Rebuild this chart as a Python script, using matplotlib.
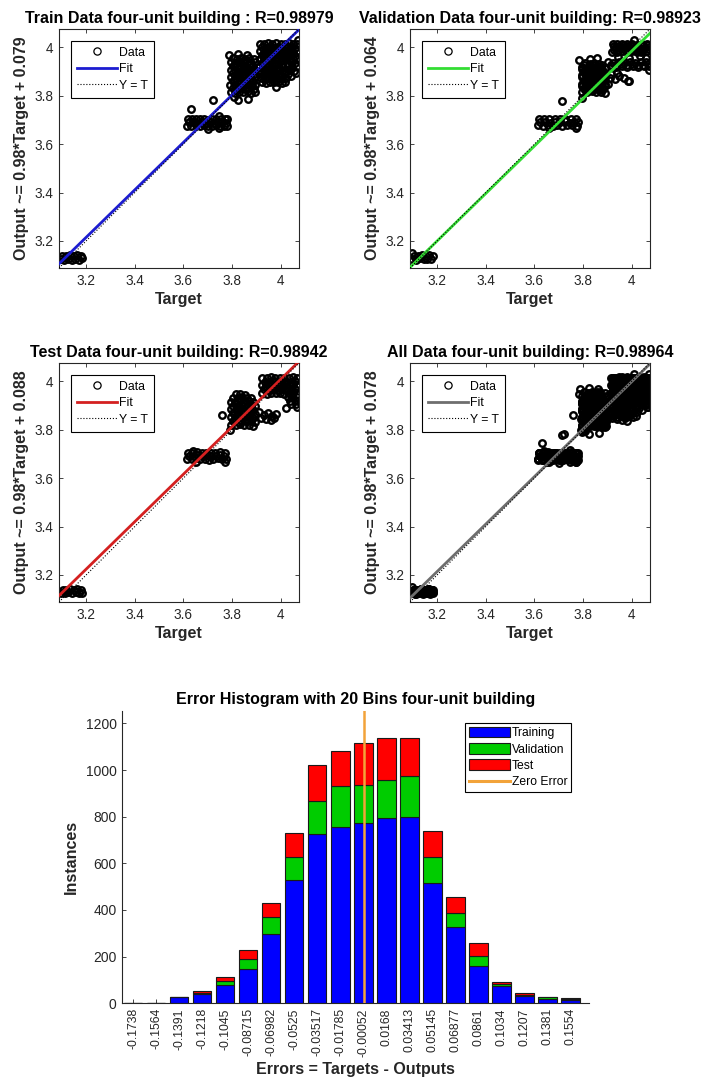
import matplotlib
matplotlib.use('Agg')
import matplotlib.pyplot as plt
from matplotlib.lines import Line2D
from matplotlib.patches import Patch
import numpy as np

plt.rcParams['font.family'] = ['Liberation Sans', 'DejaVu Sans']

# ---------------- regression data (Target, Output) ----------------
train_x = [
    # low cluster
    3.096, 3.110, 3.126, 3.141, 3.155, 3.170, 3.181, 3.100, 3.117, 3.133, 3.148, 3.163, 3.177,
    # middle cluster
    3.616, 3.633, 3.650, 3.667, 3.684, 3.700, 3.717, 3.734, 3.751, 3.768, 3.781,
    3.624, 3.641, 3.658, 3.675, 3.692, 3.709, 3.726, 3.743, 3.760, 3.777,
    3.617, 3.634, 3.651, 3.668, 3.685, 3.702, 3.719, 3.736, 3.753, 3.770, 3.780,
    3.721, 3.630, 3.745, 3.700, 3.745,
    # cluster near 3.85
    3.795, 3.812, 3.830, 3.846, 3.864, 3.880, 3.896,
    3.803, 3.820, 3.837, 3.855, 3.871, 3.889,
    3.794, 3.813, 3.829, 3.847, 3.863, 3.881, 3.895,
    3.804, 3.821, 3.838, 3.854, 3.872, 3.888,
    3.796, 3.811, 3.830, 3.845, 3.864, 3.879, 3.896,
    3.803, 3.820, 3.838, 3.855, 3.871, 3.890,
    3.795, 3.813, 3.828, 3.847, 3.862, 3.881, 3.894,
    3.804, 3.819, 3.837, 3.854, 3.872, 3.888,
    3.796, 3.812, 3.830, 3.846, 3.863, 3.880, 3.895,
    3.803, 3.821, 3.838, 3.855, 3.871, 3.889,
    3.789, 3.826, 3.860, 3.825, 3.866, 3.808,
    # cluster near 4.0
    3.915, 3.932, 3.950, 3.966, 3.983, 4.001, 4.017, 4.034, 4.050, 4.068,
    3.924, 3.940, 3.958, 3.975, 3.991, 4.008, 4.026, 4.042, 4.059,
    3.914, 3.931, 3.949, 3.967, 3.984, 4.000, 4.018, 4.033, 4.051, 4.067,
    3.923, 3.941, 3.957, 3.974, 3.992, 4.009, 4.025, 4.043, 4.060,
    3.916, 3.932, 3.950, 3.966, 3.983, 4.001, 4.017, 4.034, 4.050, 4.068,
    3.924, 3.940, 3.958, 3.975, 3.991, 4.008, 4.026, 4.042, 4.059,
    3.909, 3.927, 3.944, 3.961, 3.979, 3.995, 4.012, 4.029, 4.047, 4.066,
    3.918, 3.936, 3.952, 3.970, 3.987, 4.004, 4.021, 4.038, 4.057,
    3.910, 3.927, 3.945, 3.961, 3.978, 3.996, 4.013, 4.030,
    3.919, 3.936, 3.953, 3.970, 3.987, 4.004, 4.021,
    3.922, 3.940, 3.957, 3.974, 3.991, 4.008, 4.020,
    4.044, 3.980, 4.064, 4.070,
]
train_y = [
    3.125, 3.122, 3.127, 3.123, 3.126, 3.121, 3.128, 3.139, 3.137, 3.141, 3.138, 3.142, 3.136,
    3.677, 3.674, 3.678, 3.675, 3.679, 3.673, 3.676, 3.678, 3.674, 3.677, 3.675,
    3.690, 3.692, 3.688, 3.691, 3.689, 3.693, 3.687, 3.690, 3.692, 3.689,
    3.703, 3.706, 3.702, 3.705, 3.704, 3.701, 3.706, 3.703, 3.705, 3.702, 3.704,
    3.783, 3.745, 3.665, 3.662, 3.718,
    3.815, 3.812, 3.817, 3.814, 3.818, 3.813, 3.816,
    3.831, 3.829, 3.833, 3.830, 3.832, 3.828,
    3.846, 3.844, 3.848, 3.845, 3.847, 3.843, 3.846,
    3.862, 3.860, 3.863, 3.861, 3.864, 3.859,
    3.877, 3.875, 3.879, 3.876, 3.878, 3.874, 3.877,
    3.893, 3.891, 3.894, 3.892, 3.895, 3.890,
    3.908, 3.906, 3.910, 3.907, 3.909, 3.905, 3.908,
    3.924, 3.922, 3.925, 3.923, 3.926, 3.921,
    3.939, 3.937, 3.941, 3.938, 3.940, 3.936, 3.939,
    3.955, 3.953, 3.956, 3.954, 3.957, 3.952,
    3.970, 3.972, 3.968, 3.783, 3.785, 3.796,
    4.016, 4.013, 4.017, 4.014, 4.018, 4.015, 4.013, 4.017, 4.014, 4.016,
    4.000, 3.998, 4.002, 3.999, 4.001, 3.997, 4.000, 4.002, 3.998,
    3.984, 3.982, 3.986, 3.983, 3.985, 3.981, 3.984, 3.986, 3.982, 3.985,
    3.968, 3.966, 3.970, 3.967, 3.969, 3.965, 3.968, 3.970, 3.966,
    3.952, 3.950, 3.954, 3.951, 3.953, 3.949, 3.952, 3.954, 3.950, 3.953,
    3.936, 3.934, 3.938, 3.935, 3.937, 3.933, 3.936, 3.938, 3.934,
    3.920, 3.918, 3.922, 3.919, 3.921, 3.917, 3.920, 3.922, 3.918, 3.921,
    3.904, 3.902, 3.906, 3.903, 3.905, 3.901, 3.904, 3.906, 3.902,
    3.888, 3.886, 3.890, 3.887, 3.889, 3.885, 3.888, 3.890,
    3.872, 3.870, 3.874, 3.871, 3.873, 3.869, 3.872,
    3.856, 3.854, 3.858, 3.855, 3.857, 3.853, 3.856,
    3.880, 3.838, 3.893, 4.030,
]

val_x = [
    3.096, 3.112, 3.128, 3.144, 3.160, 3.176, 3.104, 3.120, 3.136, 3.152, 3.168, 3.181, 3.096,
    3.615, 3.635, 3.655, 3.675, 3.695, 3.715, 3.735, 3.755, 3.775,
    3.625, 3.645, 3.665, 3.685, 3.705, 3.725, 3.745, 3.765, 3.780,
    3.618, 3.640, 3.662, 3.684, 3.706, 3.728, 3.750, 3.772,
    3.713, 3.660, 3.770,
    3.798, 3.817, 3.836, 3.855, 3.874, 3.890,
    3.806, 3.826, 3.845, 3.864, 3.883,
    3.797, 3.816, 3.835, 3.854, 3.873, 3.891,
    3.807, 3.825, 3.846, 3.865, 3.884,
    3.796, 3.817, 3.836, 3.855, 3.874, 3.892,
    3.806, 3.826, 3.845, 3.864, 3.883,
    3.798, 3.816, 3.835, 3.854, 3.873, 3.890,
    3.808, 3.827, 3.846, 3.866,
    3.807, 3.826, 3.845, 3.864, 3.883,
    3.798, 3.817, 3.836, 3.855, 3.874, 3.890,
    3.807, 3.826, 3.845, 3.864, 3.883,
    3.798, 3.817, 3.836, 3.855, 3.874, 3.890,
    3.807, 3.826, 3.845, 3.864, 3.883,
    3.798, 3.817, 3.836, 3.855, 3.874,
    3.805, 3.824, 3.843, 3.862, 3.880,
    3.910, 3.930, 3.950, 3.968, 3.915, 3.940, 3.985, 3.905,
    3.784, 3.795, 3.858, 3.828,
    3.922, 3.942, 3.962, 3.982, 4.002, 4.022, 4.042, 4.062,
    3.932, 3.952, 3.972, 3.992, 4.012, 4.032, 4.052, 4.070,
    3.921, 3.942, 3.961, 3.983, 4.001, 4.023, 4.041, 4.063,
    3.927, 3.947, 3.967, 3.987, 4.007, 4.027, 4.047, 4.066,
    3.926, 3.946, 3.966, 3.986, 4.006, 4.026, 4.046, 4.066,
    3.945, 3.990, 4.035, 4.060,
    3.905, 3.925, 3.948, 3.970, 3.992, 4.015, 4.038, 4.060,
    3.915, 3.938, 3.960, 3.982, 4.005, 4.027, 4.050, 4.070,
    3.915, 3.937, 3.959, 3.981, 4.003, 4.026, 4.049, 4.068,
    3.990, 4.070, 4.010,
]
val_y = [
    3.126, 3.123, 3.128, 3.124, 3.127, 3.125, 3.139, 3.137, 3.140, 3.136, 3.141, 3.138, 3.152,
    3.678, 3.676, 3.680, 3.677, 3.679, 3.675, 3.678, 3.680, 3.676,
    3.691, 3.693, 3.689, 3.692, 3.690, 3.694, 3.688, 3.691, 3.690,
    3.703, 3.705, 3.702, 3.704, 3.703, 3.706, 3.702, 3.704,
    3.779, 3.665, 3.668,
    3.816, 3.814, 3.818, 3.815, 3.817, 3.813,
    3.833, 3.831, 3.835, 3.832, 3.834,
    3.850, 3.848, 3.852, 3.849, 3.851, 3.847,
    3.867, 3.865, 3.869, 3.866, 3.868,
    3.884, 3.882, 3.886, 3.883, 3.885, 3.881,
    3.901, 3.899, 3.903, 3.900, 3.902,
    3.918, 3.916, 3.920, 3.917, 3.919, 3.915,
    3.934, 3.932, 3.936, 3.933,
    3.825, 3.823, 3.827, 3.824, 3.826,
    3.842, 3.840, 3.844, 3.841, 3.843, 3.839,
    3.858, 3.856, 3.860, 3.857, 3.859,
    3.876, 3.874, 3.878, 3.875, 3.877, 3.873,
    3.892, 3.890, 3.894, 3.891, 3.893,
    3.910, 3.908, 3.912, 3.909, 3.911,
    3.926, 3.924, 3.928, 3.925, 3.927,
    3.875, 3.868, 3.880, 3.872, 3.892, 3.895, 3.860, 3.850,
    3.949, 3.790, 3.958, 3.950,
    4.014, 4.012, 4.016, 4.013, 4.015, 4.011, 4.014, 4.016,
    3.998, 3.996, 4.000, 3.997, 3.999, 3.995, 3.998, 4.000,
    3.982, 3.980, 3.984, 3.981, 3.983, 3.979, 3.982, 3.984,
    4.006, 4.004, 4.008, 4.005, 4.007, 4.003, 4.006, 4.008,
    3.990, 3.988, 3.992, 3.989, 3.991, 3.987, 3.990, 3.992,
    3.962, 3.958, 3.965, 3.955,
    3.938, 3.936, 3.940, 3.937, 3.939, 3.935, 3.938, 3.940,
    3.921, 3.919, 3.923, 3.920, 3.922, 3.918, 3.921, 3.923,
    3.929, 3.927, 3.931, 3.928, 3.930, 3.926, 3.929, 3.931,
    3.862, 3.905, 4.030,
]

test_x = [
    3.096, 3.111, 3.126, 3.141, 3.156, 3.171, 3.181, 3.103, 3.118, 3.133, 3.148, 3.163, 3.178,
    3.616, 3.634, 3.652, 3.670, 3.688, 3.706, 3.724, 3.742, 3.760, 3.776,
    3.625, 3.643, 3.661, 3.679, 3.697, 3.715, 3.733, 3.751, 3.769,
    3.618, 3.637, 3.656, 3.675, 3.694, 3.713, 3.732, 3.751, 3.770,
    3.640, 3.770, 3.650,
    3.797, 3.815, 3.833, 3.851, 3.869, 3.887,
    3.806, 3.824, 3.842, 3.860, 3.878, 3.895,
    3.796, 3.814, 3.833, 3.851, 3.869, 3.887,
    3.806, 3.824, 3.842, 3.860, 3.878, 3.895,
    3.797, 3.815, 3.833, 3.851, 3.869, 3.887,
    3.805, 3.824, 3.842, 3.860, 3.878, 3.895,
    3.796, 3.814, 3.833, 3.851, 3.869, 3.887,
    3.806, 3.824, 3.842, 3.860, 3.878,
    3.815, 3.834, 3.852,
    3.912, 3.930, 3.948, 3.965, 3.980, 3.918, 3.940, 3.960, 3.975,
    3.758, 3.790,
    3.925, 3.943, 3.961, 3.979, 3.997, 4.015, 4.033, 4.051, 4.068,
    3.934, 3.952, 3.970, 3.988, 4.006, 4.024, 4.042, 4.060,
    3.924, 3.942, 3.961, 3.979, 3.997, 4.015, 4.033, 4.051, 4.068,
    3.933, 3.952, 3.970, 3.988, 4.006, 4.024, 4.042, 4.060,
    3.924, 3.943, 3.962, 3.980, 3.998, 4.016, 4.034, 4.052, 4.068,
    4.030, 4.048, 4.066, 4.040, 4.058, 4.070, 4.045, 4.063,
    4.022, 4.068,
]
test_y = [
    3.127, 3.125, 3.129, 3.126, 3.128, 3.124, 3.127, 3.139, 3.137, 3.141, 3.138, 3.140, 3.136,
    3.680, 3.678, 3.682, 3.679, 3.681, 3.677, 3.680, 3.682, 3.678, 3.681,
    3.693, 3.691, 3.695, 3.692, 3.694, 3.690, 3.693, 3.695, 3.691,
    3.705, 3.703, 3.707, 3.704, 3.706, 3.702, 3.705, 3.707, 3.703,
    3.712, 3.668, 3.668,
    3.820, 3.818, 3.822, 3.819, 3.821, 3.817,
    3.836, 3.834, 3.838, 3.835, 3.837, 3.833,
    3.852, 3.850, 3.854, 3.851, 3.853, 3.849,
    3.868, 3.866, 3.870, 3.867, 3.869, 3.865,
    3.884, 3.882, 3.886, 3.883, 3.885, 3.881,
    3.900, 3.898, 3.902, 3.899, 3.901, 3.897,
    3.916, 3.914, 3.918, 3.915, 3.917, 3.913,
    3.932, 3.930, 3.934, 3.931, 3.933,
    3.946, 3.948, 3.945,
    3.872, 3.862, 3.870, 3.858, 3.866, 3.848, 3.845, 3.842, 3.850,
    3.859, 3.800,
    4.015, 4.013, 4.017, 4.014, 4.016, 4.012, 4.015, 4.017, 4.013,
    3.999, 3.997, 4.001, 3.998, 4.000, 3.996, 3.999, 4.001,
    3.983, 3.981, 3.985, 3.982, 3.984, 3.980, 3.983, 3.985, 3.981,
    3.967, 3.965, 3.969, 3.966, 3.968, 3.964, 3.967, 3.969,
    3.951, 3.949, 3.953, 3.950, 3.952, 3.948, 3.951, 3.953, 3.949,
    3.935, 3.937, 3.934, 3.920, 3.922, 3.919, 3.905, 3.907,
    3.892, 3.895,
]

all_x = train_x + val_x + test_x
all_y = train_y + val_y + test_y

panel_titles = ['Train Data four-unit building : R=0.98979',
                'Validation Data four-unit building: R=0.98923',
                'Test Data four-unit building: R=0.98942',
                'All Data four-unit building: R=0.98964']
fit_slopes = [0.98, 0.98, 0.98, 0.98]
fit_intercepts = [0.079, 0.064, 0.088, 0.078]
fit_colors = ['#1c1cd0', '#33dd33', '#d42020', '#6e6e6e']
reg_ticks = [3.2, 3.4, 3.6, 3.8, 4.0]
reg_ticklabels = ['3.2', '3.4', '3.6', '3.8', '4']
reg_lims = (3.088, 4.076)

# ---------------- error histogram data ----------------
bin_labels = ['-0.1738', '-0.1564', '-0.1391', '-0.1218', '-0.1045', '-0.08715',
              '-0.06982', '-0.0525', '-0.03517', '-0.01785', '-0.00052', '0.0168',
              '0.03413', '0.05145', '0.06877', '0.0861', '0.1034', '0.1207',
              '0.1381', '0.1554']
hist_train = [0, 0, 27, 38, 78, 148, 298, 529, 726, 756, 774, 796, 800, 516, 328, 160, 74, 30, 20, 14]
hist_val = [0, 0, 1, 8, 19, 41, 73, 98, 141, 175, 162, 161, 174, 110, 60, 43, 9, 6, 5, 4]
hist_test = [0, 0, 0, 8, 17, 41, 60, 104, 156, 152, 181, 182, 165, 113, 66, 54, 10, 7, 4, 5]

W, H = 702, 1081
fig = plt.figure(figsize=(W / 100, H / 100), dpi=100)
fig.patch.set_facecolor('white')

TXT = '#262626'
BIG = 11.5


def ax_px(l, t, r, b):
    return fig.add_axes([l / W, 1 - b / H, (r - l) / W, (b - t) / H])


reg_boxes = [(59, 29, 299, 268), (410, 29, 650, 268),
             (59, 363, 299, 602), (410, 363, 650, 602)]
datasets = [(train_x, train_y), (val_x, val_y), (test_x, test_y), (all_x, all_y)]

for i in range(4):
    ax = ax_px(*reg_boxes[i])
    xs, ys = datasets[i]
    ax.plot(xs, ys, 'o', ms=4.7, mfc='none', mec='black', mew=1.7, zorder=2)
    lx = np.array(reg_lims)
    ax.plot(lx, fit_slopes[i] * lx + fit_intercepts[i], '-', color=fit_colors[i], lw=2.0, zorder=3)
    ax.plot(lx, lx, ':', color='black', lw=0.8, zorder=4)
    ax.set_xlim(*reg_lims)
    ax.set_ylim(*reg_lims)
    ax.set_xticks(reg_ticks)
    ax.set_xticklabels(reg_ticklabels)
    ax.set_yticks(reg_ticks)
    ax.set_yticklabels(reg_ticklabels)
    ax.tick_params(direction='in', top=True, right=True, length=3, width=0.6,
                   labelsize=9.8, labelcolor=TXT, colors=TXT, pad=4)
    for s in ax.spines.values():
        s.set_color(TXT)
        s.set_linewidth(0.8)
    ax.set_title(panel_titles[i], fontsize=BIG, fontweight='bold', pad=4, color='black')
    ax.set_xlabel('Target', fontsize=BIG, fontweight='bold', labelpad=3, color=TXT)
    ax.set_ylabel('Output ~= %.2f*Target + %.3f' % (fit_slopes[i], fit_intercepts[i]),
                  fontsize=BIG, fontweight='bold', labelpad=4, color=TXT)
    handles = [Line2D([], [], ls='none', marker='o', ms=5.2, mfc='none', mec='black', mew=0.9),
               Line2D([], [], color=fit_colors[i], lw=2.0),
               Line2D([], [], color='black', ls=':', lw=0.8)]
    leg = ax.legend(handles, ['Data', 'Fit', 'Y = T'], loc='upper left', fontsize=8.8,
                    frameon=True, fancybox=False, edgecolor='black', framealpha=1,
                    borderaxespad=0.95, handlelength=3.3, handletextpad=0.15,
                    labelspacing=0.36, borderpad=0.5)
    leg.get_frame().set_linewidth(0.8)

# ---------------- histogram ----------------
hax = ax_px(121.5, 711, 589, 1003.3)
centers = np.array([float(s) for s in bin_labels])
step = (centers[-1] - centers[0]) / (len(centers) - 1)
bw = 0.8 * step
tr = np.array(hist_train)
va = np.array(hist_val)
te = np.array(hist_test)
hax.bar(centers, tr, bw, color='#0000ff', edgecolor='#1a1a1a', lw=0.8, zorder=2)
hax.bar(centers, va, bw, bottom=tr, color='#00cc00', edgecolor='#1a1a1a', lw=0.8, zorder=2)
hax.bar(centers, te, bw, bottom=tr + va, color='#ff0000', edgecolor='#1a1a1a', lw=0.8, zorder=2)
hax.axvline(0, color='#f2a33a', lw=1.8, zorder=3)
hax.set_xlim(centers[0] - 0.5 * step, centers[-1] + 0.8 * step)
hax.set_ylim(0, 1.1 * (tr + va + te).max())
hax.set_xticks(centers)
hax.set_xticklabels(bin_labels, rotation=90)
hax.set_yticks([0, 200, 400, 600, 800, 1000, 1200])
hax.tick_params(direction='in', length=3, width=0.6, labelsize=10, labelcolor=TXT, colors=TXT)
hax.tick_params(axis='x', labelsize=8.8)
hax.spines['top'].set_visible(False)
hax.spines['right'].set_visible(False)
for s in ('left', 'bottom'):
    hax.spines[s].set_color(TXT)
    hax.spines[s].set_linewidth(0.8)
hax.set_title('Error Histogram with 20 Bins four-unit building', fontsize=BIG,
              fontweight='bold', pad=5, color='black')
hax.set_xlabel('Errors = Targets - Outputs', fontsize=BIG, fontweight='bold', labelpad=4, color=TXT)
hax.set_ylabel('Instances', fontsize=BIG, fontweight='bold', labelpad=5, color=TXT)
hh = [Patch(facecolor='#0000ff', edgecolor='#1a1a1a', lw=0.8),
      Patch(facecolor='#00cc00', edgecolor='#1a1a1a', lw=0.8),
      Patch(facecolor='#ff0000', edgecolor='#1a1a1a', lw=0.8),
      Line2D([], [], color='#f2a33a', lw=2.2)]
hleg = hax.legend(hh, ['Training', 'Validation', 'Test', 'Zero Error'], loc='upper right',
                  bbox_to_anchor=((571 - 121.5) / 467.5, 1 - 12 / 292.3), borderaxespad=0,
                  fontsize=8.7, frameon=True, fancybox=False, edgecolor='black', framealpha=1,
                  handlelength=3.4, handleheight=1.0, handletextpad=0.15, labelspacing=0.32,
                  borderpad=0.3)
hleg.get_frame().set_linewidth(0.8)

fig.savefig('out.png', dpi=100, facecolor='white')
